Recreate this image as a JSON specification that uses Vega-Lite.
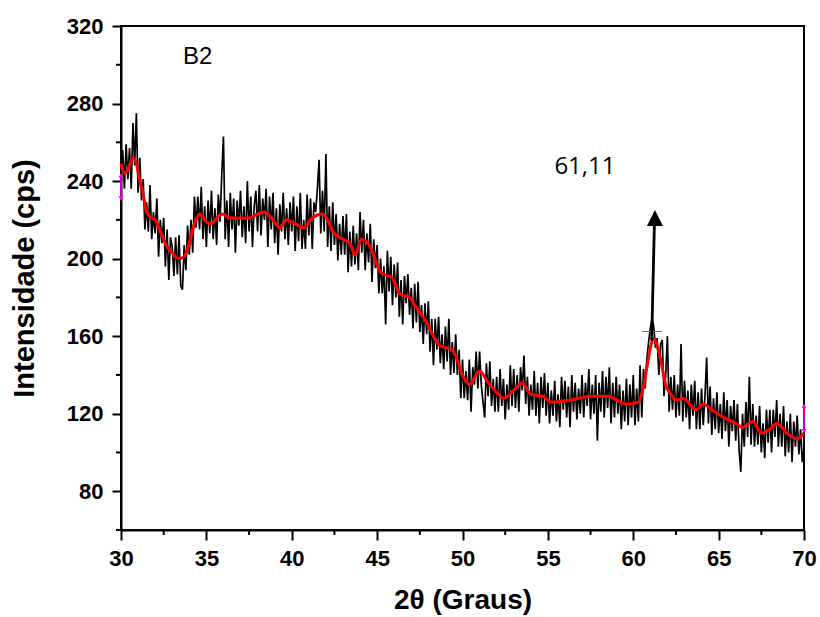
{
  "$schema": "https://vega.github.io/schema/vega-lite/v6.json",
  "width": 683,
  "height": 504,
  "autosize": {"type": "none"},
  "padding": {"left": 121, "top": 26, "right": 16, "bottom": 87},
  "background": "white",
  "config": {
    "view": {"stroke": "black", "strokeWidth": 2},
    "axis": {
      "domainColor": "black", "domainWidth": 2, "tickColor": "black", "tickWidth": 2,
      "labelFont": "Liberation Sans", "labelFontWeight": "bold", "labelFontSize": 22, "labelColor": "black",
      "titleFont": "Liberation Sans", "titleFontWeight": "bold", "titleFontSize": 28, "titleColor": "black",
      "grid": false
    }
  },
  "datasets": {
    "raw": [
      {"x":30.0,"y":237},{"x":30.1,"y":256},{"x":30.2,"y":236},{"x":30.3,"y":259},{"x":30.4,"y":241},{"x":30.5,"y":257},{"x":30.6,"y":236},{"x":30.7,"y":270},{"x":30.8,"y":248},{"x":30.9,"y":275},
      {"x":31.0,"y":234},{"x":31.1,"y":252},{"x":31.2,"y":230},{"x":31.3,"y":241},{"x":31.4,"y":215},{"x":31.5,"y":229},{"x":31.6,"y":214},{"x":31.7,"y":238},{"x":31.8,"y":210},{"x":31.9,"y":224},
      {"x":32.0,"y":213},{"x":32.1,"y":231},{"x":32.2,"y":201},{"x":32.3,"y":220},{"x":32.4,"y":208},{"x":32.5,"y":221},{"x":32.6,"y":196},{"x":32.7,"y":215},{"x":32.8,"y":189},{"x":32.9,"y":211},
      {"x":33.0,"y":206},{"x":33.1,"y":191},{"x":33.2,"y":211},{"x":33.3,"y":192},{"x":33.4,"y":212},{"x":33.5,"y":186},{"x":33.6,"y":184},{"x":33.7,"y":207},{"x":33.8,"y":194},{"x":33.9,"y":217},
      {"x":34.0,"y":202},{"x":34.1,"y":220},{"x":34.2,"y":203},{"x":34.3,"y":232},{"x":34.4,"y":216},{"x":34.5,"y":232},{"x":34.6,"y":215},{"x":34.7,"y":237},{"x":34.8,"y":210},{"x":34.9,"y":227},
      {"x":35.0,"y":206},{"x":35.1,"y":230},{"x":35.2,"y":213},{"x":35.3,"y":235},{"x":35.4,"y":210},{"x":35.5,"y":226},{"x":35.6,"y":207},{"x":35.7,"y":233},{"x":35.8,"y":219},{"x":35.9,"y":243},
      {"x":36.0,"y":263},{"x":36.1,"y":210},{"x":36.2,"y":230},{"x":36.3,"y":206},{"x":36.4,"y":234},{"x":36.5,"y":215},{"x":36.6,"y":231},{"x":36.7,"y":203},{"x":36.8,"y":230},{"x":36.9,"y":217},
      {"x":37.0,"y":235},{"x":37.1,"y":211},{"x":37.2,"y":227},{"x":37.3,"y":208},{"x":37.4,"y":240},{"x":37.5,"y":214},{"x":37.6,"y":232},{"x":37.7,"y":206},{"x":37.8,"y":227},{"x":37.9,"y":235},
      {"x":38.0,"y":214},{"x":38.1,"y":238},{"x":38.2,"y":212},{"x":38.3,"y":231},{"x":38.4,"y":220},{"x":38.5,"y":236},{"x":38.6,"y":206},{"x":38.7,"y":232},{"x":38.8,"y":215},{"x":38.9,"y":234},
      {"x":39.0,"y":208},{"x":39.1,"y":226},{"x":39.2,"y":202},{"x":39.3,"y":228},{"x":39.4,"y":214},{"x":39.5,"y":234},{"x":39.6,"y":210},{"x":39.7,"y":226},{"x":39.8,"y":207},{"x":39.9,"y":229},
      {"x":40.0,"y":214},{"x":40.1,"y":232},{"x":40.2,"y":204},{"x":40.3,"y":227},{"x":40.4,"y":209},{"x":40.5,"y":234},{"x":40.6,"y":205},{"x":40.7,"y":220},{"x":40.8,"y":205},{"x":40.9,"y":233},
      {"x":41.0,"y":212},{"x":41.1,"y":231},{"x":41.2,"y":205},{"x":41.3,"y":229},{"x":41.4,"y":224},{"x":41.5,"y":236},{"x":41.6,"y":251},{"x":41.7,"y":213},{"x":41.8,"y":235},{"x":41.9,"y":214},
      {"x":42.0,"y":254},{"x":42.1,"y":206},{"x":42.2,"y":227},{"x":42.3,"y":204},{"x":42.4,"y":229},{"x":42.5,"y":207},{"x":42.6,"y":223},{"x":42.7,"y":199},{"x":42.8,"y":218},{"x":42.9,"y":202},
      {"x":43.0,"y":222},{"x":43.1,"y":202},{"x":43.2,"y":223},{"x":43.3,"y":193},{"x":43.4,"y":214},{"x":43.5,"y":196},{"x":43.6,"y":217},{"x":43.7,"y":197},{"x":43.8,"y":213},{"x":43.9,"y":194},
      {"x":44.0,"y":224},{"x":44.1,"y":203},{"x":44.2,"y":220},{"x":44.3,"y":194},{"x":44.4,"y":213},{"x":44.5,"y":198},{"x":44.6,"y":218},{"x":44.7,"y":188},{"x":44.8,"y":210},{"x":44.9,"y":195},
      {"x":45.0,"y":207},{"x":45.1,"y":182},{"x":45.2,"y":200},{"x":45.3,"y":182},{"x":45.4,"y":196},{"x":45.5,"y":166},{"x":45.6,"y":204},{"x":45.7,"y":183},{"x":45.8,"y":201},{"x":45.9,"y":176},
      {"x":46.0,"y":197},{"x":46.1,"y":180},{"x":46.2,"y":198},{"x":46.3,"y":170},{"x":46.4,"y":189},{"x":46.5,"y":166},{"x":46.6,"y":191},{"x":46.7,"y":177},{"x":46.8,"y":192},{"x":46.9,"y":171},
      {"x":47.0,"y":185},{"x":47.1,"y":164},{"x":47.2,"y":187},{"x":47.3,"y":167},{"x":47.4,"y":188},{"x":47.5,"y":162},{"x":47.6,"y":176},{"x":47.7,"y":156},{"x":47.8,"y":177},{"x":47.9,"y":161},
      {"x":48.0,"y":178},{"x":48.1,"y":152},{"x":48.2,"y":169},{"x":48.3,"y":145},{"x":48.4,"y":169},{"x":48.5,"y":153},{"x":48.6,"y":170},{"x":48.7,"y":146},{"x":48.8,"y":161},{"x":48.9,"y":143},
      {"x":49.0,"y":165},{"x":49.1,"y":147},{"x":49.2,"y":169},{"x":49.3,"y":140},{"x":49.4,"y":157},{"x":49.5,"y":141},{"x":49.6,"y":161},{"x":49.7,"y":140},{"x":49.8,"y":153},{"x":49.9,"y":128},
      {"x":50.0,"y":148},{"x":50.1,"y":128},{"x":50.2,"y":142},{"x":50.3,"y":127},{"x":50.4,"y":148},{"x":50.5,"y":121},{"x":50.6,"y":144},{"x":50.7,"y":135},{"x":50.8,"y":152},{"x":50.9,"y":133},
      {"x":51.0,"y":152},{"x":51.1,"y":135},{"x":51.2,"y":126},{"x":51.3,"y":118},{"x":51.4,"y":146},{"x":51.5,"y":129},{"x":51.6,"y":147},{"x":51.7,"y":124},{"x":51.8,"y":138},{"x":51.9,"y":121},
      {"x":52.0,"y":139},{"x":52.1,"y":121},{"x":52.2,"y":143},{"x":52.3,"y":124},{"x":52.4,"y":138},{"x":52.5,"y":117},{"x":52.6,"y":135},{"x":52.7,"y":122},{"x":52.8,"y":145},{"x":52.9,"y":124},
      {"x":53.0,"y":143},{"x":53.1,"y":123},{"x":53.2,"y":140},{"x":53.3,"y":121},{"x":53.4,"y":144},{"x":53.5,"y":132},{"x":53.6,"y":150},{"x":53.7,"y":125},{"x":53.8,"y":139},{"x":53.9,"y":119},
      {"x":54.0,"y":135},{"x":54.1,"y":122},{"x":54.2,"y":142},{"x":54.3,"y":119},{"x":54.4,"y":136},{"x":54.5,"y":115},{"x":54.6,"y":139},{"x":54.7,"y":123},{"x":54.8,"y":141},{"x":54.9,"y":119},
      {"x":55.0,"y":136},{"x":55.1,"y":115},{"x":55.2,"y":132},{"x":55.3,"y":119},{"x":55.4,"y":137},{"x":55.5,"y":116},{"x":55.6,"y":130},{"x":55.7,"y":113},{"x":55.8,"y":139},{"x":55.9,"y":122},
      {"x":56.0,"y":137},{"x":56.1,"y":118},{"x":56.2,"y":134},{"x":56.3,"y":113},{"x":56.4,"y":140},{"x":56.5,"y":121},{"x":56.6,"y":136},{"x":56.7,"y":117},{"x":56.8,"y":133},{"x":56.9,"y":120},
      {"x":57.0,"y":140},{"x":57.1,"y":118},{"x":57.2,"y":136},{"x":57.3,"y":124},{"x":57.4,"y":143},{"x":57.5,"y":117},{"x":57.6,"y":135},{"x":57.7,"y":120},{"x":57.8,"y":140},{"x":57.9,"y":106},
      {"x":58.0,"y":136},{"x":58.1,"y":121},{"x":58.2,"y":142},{"x":58.3,"y":118},{"x":58.4,"y":139},{"x":58.5,"y":123},{"x":58.6,"y":144},{"x":58.7,"y":115},{"x":58.8,"y":136},{"x":58.9,"y":118},
      {"x":59.0,"y":139},{"x":59.1,"y":120},{"x":59.2,"y":135},{"x":59.3,"y":112},{"x":59.4,"y":132},{"x":59.5,"y":116},{"x":59.6,"y":138},{"x":59.7,"y":114},{"x":59.8,"y":135},{"x":59.9,"y":118},
      {"x":60.0,"y":140},{"x":60.1,"y":114},{"x":60.2,"y":133},{"x":60.3,"y":116},{"x":60.4,"y":145},{"x":60.5,"y":118},{"x":60.6,"y":143},{"x":60.7,"y":133},{"x":60.8,"y":149},{"x":60.9,"y":157},
      {"x":61.0,"y":164},{"x":61.1,"y":169},{"x":61.2,"y":165},{"x":61.3,"y":154},{"x":61.4,"y":159},{"x":61.5,"y":140},{"x":61.6,"y":156},{"x":61.7,"y":158},{"x":61.8,"y":129},{"x":61.9,"y":140},
      {"x":62.0,"y":160},{"x":62.1,"y":121},{"x":62.2,"y":139},{"x":62.3,"y":122},{"x":62.4,"y":140},{"x":62.5,"y":118},{"x":62.6,"y":135},{"x":62.7,"y":119},{"x":62.8,"y":156},{"x":62.9,"y":116},
      {"x":63.0,"y":137},{"x":63.1,"y":118},{"x":63.2,"y":132},{"x":63.3,"y":112},{"x":63.4,"y":135},{"x":63.5,"y":119},{"x":63.6,"y":137},{"x":63.7,"y":112},{"x":63.8,"y":131},{"x":63.9,"y":112},
      {"x":64.0,"y":133},{"x":64.1,"y":114},{"x":64.2,"y":129},{"x":64.3,"y":149},{"x":64.4,"y":115},{"x":64.5,"y":134},{"x":64.6,"y":109},{"x":64.7,"y":128},{"x":64.8,"y":112},{"x":64.9,"y":131},
      {"x":65.0,"y":110},{"x":65.1,"y":125},{"x":65.2,"y":107},{"x":65.3,"y":131},{"x":65.4,"y":111},{"x":65.5,"y":127},{"x":65.6,"y":103},{"x":65.7,"y":124},{"x":65.8,"y":111},{"x":65.9,"y":127},
      {"x":66.0,"y":106},{"x":66.1,"y":125},{"x":66.2,"y":101},{"x":66.3,"y":90},{"x":66.4,"y":120},{"x":66.5,"y":103},{"x":66.6,"y":126},{"x":66.7,"y":108},{"x":66.8,"y":139},{"x":66.9,"y":104},
      {"x":67.0,"y":125},{"x":67.1,"y":103},{"x":67.2,"y":119},{"x":67.3,"y":104},{"x":67.4,"y":124},{"x":67.5,"y":100},{"x":67.6,"y":115},{"x":67.7,"y":97},{"x":67.8,"y":122},{"x":67.9,"y":105},
      {"x":68.0,"y":122},{"x":68.1,"y":100},{"x":68.2,"y":122},{"x":68.3,"y":108},{"x":68.4,"y":127},{"x":68.5,"y":103},{"x":68.6,"y":120},{"x":68.7,"y":103},{"x":68.8,"y":124},{"x":68.9,"y":98},
      {"x":69.0,"y":116},{"x":69.1,"y":100},{"x":69.2,"y":120},{"x":69.3,"y":95},{"x":69.4,"y":116},{"x":69.5,"y":103},{"x":69.6,"y":119},{"x":69.7,"y":99},{"x":69.8,"y":112},{"x":69.9,"y":95},
      {"x":70.0,"y":102}
    ],
    "smooth": [
      {"x":30.0,"y":249},{"x":30.2,"y":244},{"x":30.4,"y":246},{"x":30.7,"y":252},{"x":30.9,"y":249},{"x":31.1,"y":240},{"x":31.3,"y":233},{"x":31.5,"y":224},{"x":31.8,"y":221},{"x":32.0,"y":220},
      {"x":32.3,"y":214},{"x":32.7,"y":206},{"x":33.0,"y":203},{"x":33.4,"y":200},{"x":33.7,"y":201},{"x":34.0,"y":208},{"x":34.3,"y":218},{"x":34.6,"y":223},{"x":35.0,"y":219},{"x":35.3,"y":218},
      {"x":35.7,"y":222},{"x":36.0,"y":223},{"x":36.3,"y":221},{"x":36.8,"y":221},{"x":37.5,"y":221},{"x":38.0,"y":223},{"x":38.4,"y":224},{"x":38.8,"y":221},{"x":39.3,"y":216},{"x":39.7,"y":220},
      {"x":40.0,"y":219},{"x":40.7,"y":216},{"x":41.2,"y":221},{"x":41.8,"y":223},{"x":42.1,"y":220},{"x":42.4,"y":214},{"x":43.0,"y":210},{"x":43.4,"y":208},{"x":43.7,"y":202},{"x":44.1,"y":210},
      {"x":44.6,"y":206},{"x":45.2,"y":193},{"x":45.9,"y":190},{"x":46.3,"y":182},{"x":46.9,"y":180},{"x":47.2,"y":176},{"x":47.9,"y":167},{"x":48.3,"y":160},{"x":48.7,"y":155},{"x":49.4,"y":153},
      {"x":50.0,"y":140},{"x":50.4,"y":135},{"x":51.0,"y":142},{"x":51.5,"y":136},{"x":52.0,"y":131},{"x":52.4,"y":128},{"x":53.0,"y":132},{"x":53.5,"y":136},{"x":54.0,"y":130},{"x":54.7,"y":129},
      {"x":55.2,"y":126},{"x":56.3,"y":127},{"x":57.5,"y":129},{"x":58.5,"y":129},{"x":59.6,"y":125},{"x":60.3,"y":126},{"x":60.6,"y":134},{"x":60.8,"y":144},{"x":61.0,"y":154},{"x":61.2,"y":159},
      {"x":61.4,"y":155},{"x":61.6,"y":148},{"x":61.9,"y":135},{"x":62.2,"y":130},{"x":62.6,"y":127},{"x":62.9,"y":128},{"x":63.7,"y":122},{"x":64.1,"y":125},{"x":64.6,"y":122},{"x":65.3,"y":118},
      {"x":66.0,"y":115},{"x":66.4,"y":113},{"x":67.0,"y":116},{"x":67.5,"y":110},{"x":68.0,"y":112},{"x":68.4,"y":115},{"x":69.0,"y":110},{"x":69.6,"y":107},{"x":70.0,"y":110}
    ],
    "yminor": [{"y":60},{"y":100},{"y":140},{"y":180},{"y":220},{"y":260},{"y":300}],
    "xminor": [{"x":32.5},{"x":37.5},{"x":42.5},{"x":47.5},{"x":52.5},{"x":57.5},{"x":62.5},{"x":67.5}],
    "peakmark": [{"x":60.51,"x2":61.68,"y":162.4}],
    "arrow": [{"x":61.08,"y":157.7,"x2":61.24,"y2":218.5}],
    "arrowhead": [{"x":61.27,"y":221.0}],
    "magline": [{"x":30.0,"y":231,"y2":243},{"x":70.0,"y":111,"y2":124}],
    "magup": [{"x":30.0,"y":243},{"x":70.0,"y":124}],
    "magdown": [{"x":30.0,"y":231},{"x":70.0,"y":111}],
    "labels": [
      {"x":34.49,"y":304.2,"text":"B2","kind":"b"},
      {"x":57.17,"y":247.1,"text":"61,11","kind":"p"}
    ]
  },
  "layer": [
    {
      "data": {"name": "raw"},
      "mark": {"type": "line", "color": "black", "strokeWidth": 1.7},
      "encoding": {
        "x": {
          "field": "x", "type": "quantitative",
          "scale": {"domain": [30, 70], "nice": false, "zero": false},
          "axis": {
            "title": "2θ (Graus)",
            "values": [30, 35, 40, 45, 50, 55, 60, 65, 70],
            "tickSize": 10,
            "labelFontSize": 22,
            "labelPadding": 8,
            "titlePadding": 17,
            "titleFontSize": 28,
            "labelFlush": false,
            "labelOverlap": false
          }
        },
        "y": {
          "field": "y", "type": "quantitative",
          "scale": {"domain": [60, 320], "nice": false, "zero": false},
          "axis": {
            "title": "Intensidade (cps)",
            "values": [80, 120, 160, 200, 240, 280, 320],
            "tickSize": 9,
            "labelFontSize": 22,
            "labelPadding": 9,
            "titlePadding": 27,
            "titleFontSize": 29,
            "labelFlush": false,
            "labelOverlap": false
          }
        }
      }
    },
    {
      "data": {"name": "yminor"},
      "mark": {"type": "rule", "color": "black", "strokeWidth": 2, "x2Offset": -5},
      "encoding": {
        "x": {"datum": 30, "type": "quantitative"},
        "x2": {"datum": 30},
        "y": {"field": "y", "type": "quantitative"}
      }
    },
    {
      "data": {"name": "xminor"},
      "mark": {"type": "rule", "color": "black", "strokeWidth": 2, "y2Offset": 5},
      "encoding": {
        "x": {"field": "x", "type": "quantitative"},
        "y": {"datum": 60, "type": "quantitative"},
        "y2": {"datum": 60}
      }
    },
    {
      "data": {"name": "smooth"},
      "mark": {"type": "line", "color": "#ff0000", "strokeWidth": 3, "interpolate": "monotone"},
      "encoding": {
        "x": {"field": "x", "type": "quantitative"},
        "y": {"field": "y", "type": "quantitative"}
      }
    },
    {
      "data": {"name": "peakmark"},
      "mark": {"type": "rule", "color": "#ff3333", "strokeWidth": 1},
      "encoding": {
        "x": {"field": "x", "type": "quantitative"},
        "x2": {"field": "x2"},
        "y": {"field": "y", "type": "quantitative"}
      }
    },
    {
      "data": {"name": "arrow"},
      "mark": {"type": "rule", "color": "black", "strokeWidth": 2.8},
      "encoding": {
        "x": {"field": "x", "type": "quantitative"},
        "x2": {"field": "x2"},
        "y": {"field": "y", "type": "quantitative"},
        "y2": {"field": "y2"}
      }
    },
    {
      "data": {"name": "arrowhead"},
      "mark": {"type": "point", "shape": "M-1,1L0,-1L1,1Z", "filled": true, "color": "black", "opacity": 1, "size": 256},
      "encoding": {
        "x": {"field": "x", "type": "quantitative"},
        "y": {"field": "y", "type": "quantitative"}
      }
    },
    {
      "data": {"name": "magline"},
      "mark": {"type": "rule", "color": "#ff00ff", "strokeWidth": 1.5},
      "encoding": {
        "x": {"field": "x", "type": "quantitative"},
        "y": {"field": "y", "type": "quantitative"},
        "y2": {"field": "y2"}
      }
    },
    {
      "data": {"name": "magup"},
      "mark": {"type": "point", "shape": "triangle-up", "filled": true, "color": "#ff00ff", "opacity": 1, "size": 25},
      "encoding": {
        "x": {"field": "x", "type": "quantitative"},
        "y": {"field": "y", "type": "quantitative"}
      }
    },
    {
      "data": {"name": "magdown"},
      "mark": {"type": "point", "shape": "triangle-down", "filled": true, "color": "#ff00ff", "opacity": 1, "size": 25},
      "encoding": {
        "x": {"field": "x", "type": "quantitative"},
        "y": {"field": "y", "type": "quantitative"}
      }
    },
    {
      "data": {"name": "labels"},
      "transform": [{"filter": "datum.kind === 'b'"}],
      "mark": {"type": "text", "font": "Liberation Sans", "fontSize": 24, "color": "black", "align": "center", "baseline": "middle"},
      "encoding": {
        "x": {"field": "x", "type": "quantitative"},
        "y": {"field": "y", "type": "quantitative"},
        "text": {"field": "text"}
      }
    },
    {
      "data": {"name": "labels"},
      "transform": [{"filter": "datum.kind === 'p'"}],
      "mark": {"type": "text", "font": "Open Sans", "fontSize": 24, "color": "black", "align": "center", "baseline": "middle"},
      "encoding": {
        "x": {"field": "x", "type": "quantitative"},
        "y": {"field": "y", "type": "quantitative"},
        "text": {"field": "text"}
      }
    }
  ]
}
